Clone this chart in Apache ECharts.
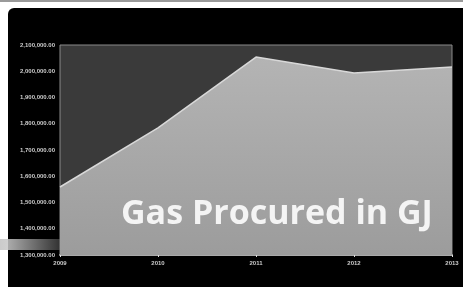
<!DOCTYPE html>
<html><head><meta charset="utf-8">
<script src="https://cdn.jsdelivr.net/npm/echarts@6/dist/echarts.min.js"></script>
<style>html,body{margin:0;padding:0;background:#fff;}#c{width:463px;height:287px;}</style>
</head><body><div id="c"></div>
<script>
const years = ['2009', '2010', '2011', '2012', '2013'];
const gasProcured = [1559000, 1784000, 2054000, 1993000, 2016000];
const yMin = 1300000, yMax = 2100000, yStep = 100000;
const chartTitle = 'Gas Procured in GJ';

const chart = echarts.init(document.getElementById('c'));
chart.setOption({
  backgroundColor: '#fff',
  animation: false,
  graphic: [
    {type: 'rect', z: -10, shape: {x: 0, y: 0, width: 463, height: 2}, style: {fill: '#9a9a9a'}},
    {type: 'rect', z: -10, shape: {x: 8, y: 8, width: 470, height: 300, r: 6}, style: {fill: '#000'}},
    {type: 'rect', z: -9, shape: {x: 0, y: 239, width: 60, height: 11},
      style: {fill: new echarts.graphic.LinearGradient(0, 0, 1, 0, [
        {offset: 0, color: 'rgba(200,200,200,0.95)'}, {offset: 1, color: 'rgba(200,200,200,0.25)'}])}}
  ],
  title: {
    text: chartTitle, left: 116, top: 192,
    textStyle: {color: '#f4f4f4', fontSize: 34, fontWeight: 'bold', fontFamily: 'Open Sans'}
  },
  grid: {left: 60, right: 11, top: 45, bottom: 32, show: true, backgroundColor: '#3a3a3a', borderColor: '#8a8a8a', borderWidth: 1},
  xAxis: {
    type: 'category', data: years, boundaryGap: false,
    axisLine: {lineStyle: {color: '#aaa', width: 2}},
    axisTick: {show: true, length: 2, lineStyle: {color: '#ddd'}},
    axisLabel: {color: '#ccc', fontSize: 6, fontWeight: 'bold', margin: 5}
  },
  yAxis: {
    type: 'value', min: yMin, max: yMax, interval: yStep,
    splitLine: {show: false},
    axisLine: {show: false},
    axisTick: {show: false},
    axisLabel: {color: '#ccc', fontSize: 6, fontWeight: 'bold', margin: 5,
      formatter: v => v.toLocaleString('en-US', {minimumFractionDigits: 2, maximumFractionDigits: 2})}
  },
  series: [{
    type: 'line', data: gasProcured, symbol: 'none',
    lineStyle: {color: '#d8d8d8', width: 1.5},
    areaStyle: {opacity: 1, color: new echarts.graphic.LinearGradient(0, 0, 0, 1, [
      {offset: 0, color: '#b4b4b4'}, {offset: 1, color: '#9c9c9c'}])}
  }]
});
</script></body></html>
